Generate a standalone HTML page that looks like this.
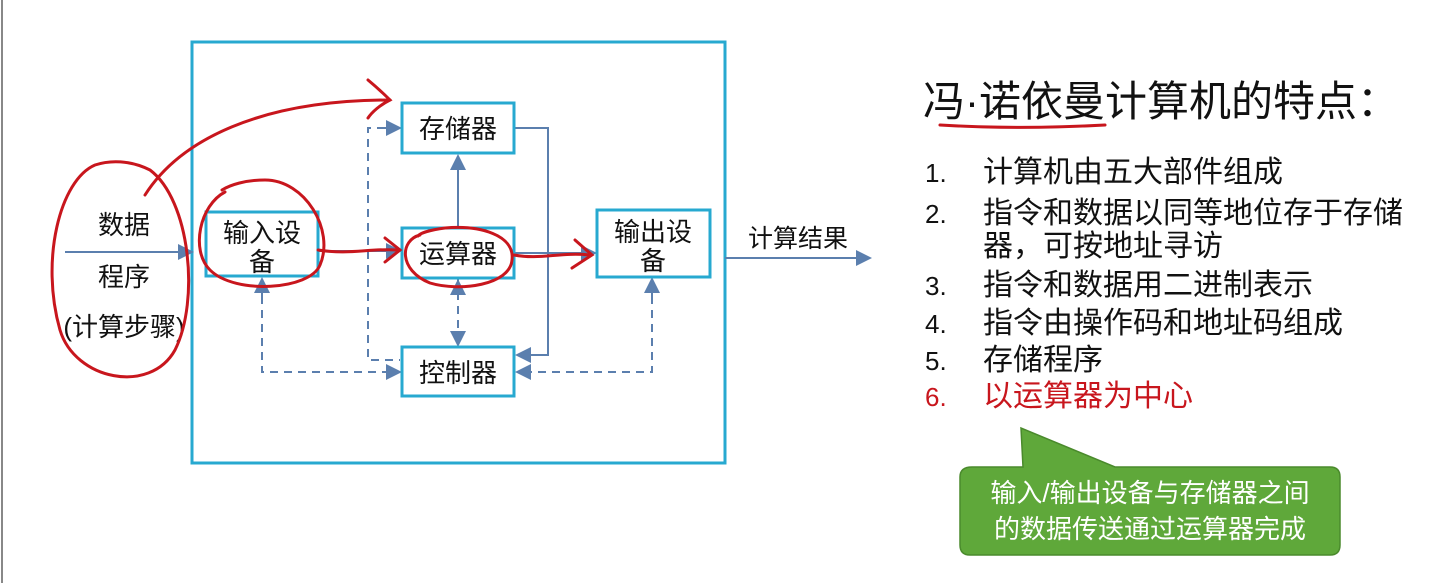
<!DOCTYPE html><html><head><meta charset="utf-8"><style>
body{margin:0;background:#fff;width:1453px;height:583px;overflow:hidden}
text{font-family:"Liberation Sans","Noto Sans CJK SC",sans-serif}
</style></head><body>
<svg width="1453" height="583" viewBox="0 0 1453 583" xmlns="http://www.w3.org/2000/svg">
<defs>
<marker id="a" markerWidth="8" markerHeight="8" refX="7" refY="4" orient="auto"><path d="M0,0L8,4L0,8z" fill="#5b7fae"/></marker>
</defs>
<rect x="1" y="0" width="2" height="583" fill="#888"/>
<rect x="192" y="42" width="533" height="421" fill="none" stroke="#27a9d0" stroke-width="3"/>
<g stroke="#5b7fae" stroke-width="2" fill="none">
<line x1="65" y1="252" x2="192" y2="252" marker-end="url(#a)"/>
<line x1="725" y1="258" x2="870" y2="258" marker-end="url(#a)"/>
<line x1="318" y1="251" x2="400" y2="251" marker-end="url(#a)"/>
<line x1="514" y1="253" x2="595" y2="253" marker-end="url(#a)"/>
<line x1="458" y1="228" x2="458" y2="156" marker-end="url(#a)"/>
<polyline points="514,128 548,128 548,355 517,355" marker-end="url(#a)"/>
<g stroke-dasharray="8,6">
<polyline points="385,128 368,128 368,360 400,360" />
<line x1="378" y1="128" x2="400" y2="128" marker-end="url(#a)"/>
<line x1="458" y1="278" x2="458" y2="345" marker-end="url(#a)"/>
<polyline points="262,282 262,372 400,372" marker-end="url(#a)"/>
<polyline points="652,282 652,372 517,372" marker-end="url(#a)"/>
</g>
<line x1="458" y1="300" x2="458" y2="281" marker-end="url(#a)"/>
<line x1="262" y1="300" x2="262" y2="279" marker-end="url(#a)"/>
<line x1="652" y1="300" x2="652" y2="279" marker-end="url(#a)"/>
</g>
<g fill="#fff" stroke="#27a9d0" stroke-width="3">
<rect x="402" y="103" width="112" height="50"/>
<rect x="206" y="212" width="112" height="64"/>
<rect x="402" y="228" width="112" height="50"/>
<rect x="597" y="210" width="113" height="67"/>
<rect x="402" y="347" width="112" height="49"/>
</g>
<g font-size="26" fill="#111" text-anchor="middle">
<text x="458" y="138">存储器</text>
<text x="262" y="242">输入设</text><text x="262" y="271">备</text>
<text x="458" y="263">运算器</text>
<text x="653" y="241">输出设</text><text x="653" y="270">备</text>
<text x="458" y="382">控制器</text>
<text x="124" y="234">数据</text>
<text x="124" y="286">程序</text>
<text x="124" y="336">(计算步骤)</text>
<text x="798" y="247" font-size="25">计算结果</text>
</g>
<g stroke="#c8161d" stroke-width="3" fill="none" stroke-linecap="round">
<path d="M95,165 C60,180 40,260 60,330 C75,380 150,395 175,350 C200,300 190,200 150,170 C130,160 110,160 95,165"/>
<path d="M145,195 C180,140 260,100 390,100"/>
<path d="M368,80 C380,90 385,95 390,100 C380,105 372,112 368,118"/>
<path d="M225,192 C200,205 190,250 210,270 C235,295 310,290 320,265 C335,230 305,180 265,180 C245,180 230,185 222,190"/>
<path d="M318,250 C350,255 370,248 398,250"/>
<path d="M385,238 L400,250 L385,262"/>
<path d="M420,235 C400,240 398,270 430,283 C460,292 510,285 512,260 C515,235 480,225 445,228 C430,230 420,233 418,236"/>
<path d="M514,255 C540,260 560,252 590,255"/>
<path d="M575,240 L592,255 L572,268"/>
<path d="M940,125 C990,128 1050,128 1105,125"/>
</g>
<g fill="#111">
<text x="923" y="116" font-size="42">冯·诺依曼计算机的特点：</text>
<g font-size="30">
<text x="925" y="182" font-size="26">1.</text><text x="983" y="182">计算机由五大部件组成</text>
<text x="925" y="223" font-size="26">2.</text><text x="983" y="223">指令和数据以同等地位存于存储</text>
<text x="983" y="256">器，可按地址寻访</text>
<text x="925" y="295" font-size="26">3.</text><text x="983" y="295">指令和数据用二进制表示</text>
<text x="925" y="333" font-size="26">4.</text><text x="983" y="333">指令由操作码和地址码组成</text>
<text x="925" y="370" font-size="26">5.</text><text x="983" y="370">存储程序</text>
<text x="925" y="406" fill="#c8161d" font-size="26">6.</text><text x="983" y="406" fill="#c8161d">以运算器为中心</text>
</g></g>
<path d="M972,467 L1023,467 L1021,428 L1115,467 L1330,467 Q1340,467 1340,477 L1340,545 Q1340,555 1330,555 L970,555 Q960,555 960,545 L960,477 Q960,467 972,467z" fill="#5fa83a" stroke="#4a8a2c" stroke-width="1.5"/>
<g fill="#fff" font-size="26" text-anchor="middle">
<text x="1150" y="502">输入/输出设备与存储器之间</text>
<text x="1150" y="538">的数据传送通过运算器完成</text>
</g>
</svg>
</body></html>
